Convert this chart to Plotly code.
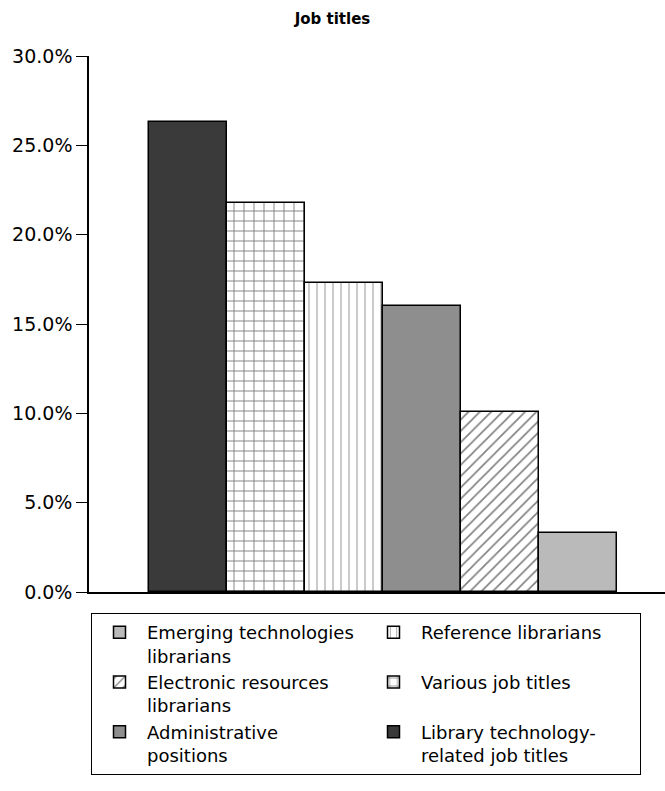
import plotly.graph_objects as go

categories = ["Library technology-related job titles", "Various job titles", "Reference librarians",
              "Administrative positions", "Electronic resources librarians", "Emerging technologies librarians"]
legend_names = ["Library technology-<br>related job titles", "Various job titles", "Reference librarians",
                "Administrative<br>positions", "Electronic resources<br>librarians", "Emerging technologies<br>librarians"]
values = [26.3, 21.8, 17.3, 16.0, 10.1, 3.3]
legend_rank = [6, 4, 2, 5, 3, 1]
fill_colors = ["#3a3a3a", "white", "white", "#8e8e8e", "white", "#bababa"]
patterns = ["", "+", "|", "", "/", ""]
pattern_fg = ["black", "black", "#444444", "black", "black", "black"]
pattern_sizes = [8, 10, 8, 8, 8, 8]
pattern_solid = [0.2, 0.18, 0.14, 0.2, 0.2, 0.2]
y_ticks = [0, 5, 10, 15, 20, 25, 30]

fig = go.Figure()
for i, cat in enumerate(categories):
    fig.add_trace(go.Bar(
        x=[i], y=[values[i]], name=legend_names[i], width=1,
        marker=dict(color=fill_colors[i],
                    line=dict(color="black", width=1.5),
                    pattern=dict(shape=patterns[i], fgcolor=pattern_fg[i], bgcolor="white",
                                 size=pattern_sizes[i], solidity=pattern_solid[i], fillmode="overlay")),
        legendrank=legend_rank[i], hovertext=cat,
    ))

fig.update_layout(
    width=665, height=791,
    margin=dict(l=89, r=0, t=56, b=199),
    plot_bgcolor="white", paper_bgcolor="white",
    barmode="overlay", bargap=0,
    font=dict(family="DejaVu Sans", size=18, color="black"),
    title=dict(text="<b>Job titles</b>", x=0.5, xref="container", y=1 - 19 / 791, yanchor="middle",
               font=dict(size=15)),
    showlegend=True,
    legend=dict(orientation="h", xref="container", yref="container",
                x=91 / 665, y=1 - 613 / 791, xanchor="left", yanchor="top",
                itemwidth=45, entrywidth=214, valign="top", traceorder="normal",
                bordercolor="black", borderwidth=1, font=dict(size=18)),
)
fig.update_xaxes(range=[-1.27, 6.115], showline=True, linecolor="black", linewidth=2,
                 showticklabels=False, ticks="", showgrid=False, zeroline=False)
fig.update_yaxes(range=[0, 30], tickvals=y_ticks, ticktext=[f"{v:.1f}%" for v in y_ticks],
                 showline=True, linecolor="black", linewidth=1.5, ticks="outside", ticklen=11,
                 tickcolor="black", showgrid=False, zeroline=False, tickfont=dict(size=19))

fig.write_html("out.html")
